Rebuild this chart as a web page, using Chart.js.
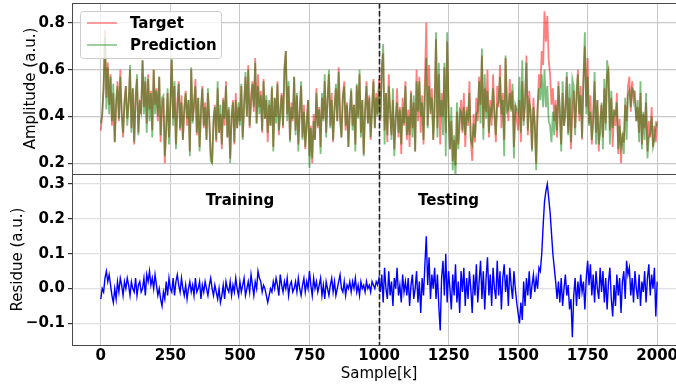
<!DOCTYPE html>
<html>
<head>
<meta charset="utf-8">
<script src="https://cdn.jsdelivr.net/npm/chart.js@4.4.0/dist/chart.umd.min.js"></script>
<style>
  html, body { margin: 0; padding: 0; background: #fff; overflow: hidden; }
  #wrap { position: relative; width: 676px; height: 385px; overflow: hidden; }
  #topChart { position: absolute; left: 0; top: 0; }
  #bottomChart { position: absolute; left: 0; top: 174px; }
</style>
</head>
<body>
<div id="wrap">
  <canvas id="topChart" width="700" height="175"></canvas>
  <canvas id="bottomChart" width="700" height="211"></canvas>
</div>
<script>
// one value every 5 samples
const sampleStep = 5;

const target = [
  0.34, 0.41, 0.52, 0.77, 0.48, 0.63, 0.45, 0.58, 0.36, 0.5, 0.29, 0.44, 0.55, 0.38, 0.6, 0.42, 0.31, 0.47, 0.53, 0.39,
  0.46, 0.6, 0.35, 0.52, 0.28, 0.49, 0.56, 0.33, 0.47, 0.41, 0.64, 0.44, 0.55, 0.37, 0.58, 0.43, 0.51, 0.34, 0.6, 0.45,
  0.52, 0.38, 0.57, 0.29, 0.43, 0.48, 0.2, 0.36, 0.5, 0.31, 0.45, 0.64, 0.39, 0.53, 0.28, 0.46, 0.55, 0.34, 0.49, 0.3,
  0.42, 0.51, 0.36, 0.47, 0.25, 0.6, 0.38, 0.44, 0.56, 0.32, 0.48, 0.27, 0.41, 0.53, 0.35, 0.46, 0.3, 0.5, 0.39, 0.24,
  0.2, 0.37, 0.45, 0.29, 0.52, 0.33, 0.41, 0.26, 0.48, 0.36, 0.55, 0.31, 0.43, 0.22, 0.39, 0.47, 0.28, 0.5, 0.35, 0.44,
  0.38, 0.53, 0.31, 0.46, 0.57, 0.4, 0.62, 0.35, 0.49, 0.55, 0.42, 0.65, 0.37, 0.58, 0.44, 0.51, 0.33, 0.56, 0.39, 0.47,
  0.29, 0.45, 0.36, 0.52, 0.27, 0.48, 0.4, 0.55, 0.32, 0.44, 0.5, 0.35, 0.61, 0.68, 0.41, 0.53, 0.3, 0.46, 0.38, 0.57,
  0.34, 0.49, 0.28, 0.42, 0.53, 0.31, 0.45, 0.26, 0.38, 0.47, 0.23, 0.36, 0.2, 0.41, 0.3, 0.52, 0.35, 0.44, 0.27, 0.48,
  0.39, 0.55, 0.33, 0.47, 0.58, 0.36, 0.5, 0.29, 0.44, 0.52, 0.38, 0.61, 0.42, 0.31, 0.48, 0.55, 0.34, 0.46, 0.27, 0.43,
  0.51, 0.36, 0.45, 0.28, 0.53, 0.4, 0.58, 0.33, 0.47, 0.24, 0.42, 0.55, 0.37, 0.49, 0.3, 0.44, 0.56, 0.35, 0.5, 0.41,
  0.56, 0.38, 0.62, 0.67, 0.34, 0.5, 0.29, 0.58, 0.41, 0.32, 0.47, 0.26, 0.39, 0.52, 0.31, 0.44, 0.24, 0.48, 0.36, 0.55,
  0.3, 0.43, 0.27, 0.51, 0.35, 0.46, 0.25, 0.6, 0.38, 0.57, 0.33, 0.49, 0.28, 0.55, 0.8, 0.36, 0.62, 0.41, 0.52, 0.3,
  0.48, 0.73, 0.35, 0.58, 0.28, 0.5, 0.4, 0.61, 0.33, 0.72, 0.45, 0.26, 0.38, 0.21, 0.3, 0.19, 0.42, 0.28, 0.36, 0.47,
  0.33, 0.5, 0.27, 0.44, 0.36, 0.55, 0.3, 0.21, 0.41, 0.29, 0.48, 0.38, 0.57, 0.45, 0.66, 0.35, 0.52, 0.42, 0.6, 0.31,
  0.47, 0.36, 0.58, 0.41, 0.29, 0.53, 0.44, 0.62, 0.35, 0.5, 0.3, 0.65, 0.46, 0.38, 0.56, 0.43, 0.51, 0.27, 0.45, 0.39,
  0.34, 0.47, 0.29, 0.55, 0.38, 0.44, 0.66, 0.32, 0.51, 0.4, 0.26, 0.48, 0.36, 0.2, 0.43, 0.58, 0.52, 0.68, 0.62, 0.85,
  0.72, 0.83, 0.64, 0.58, 0.45, 0.52, 0.38, 0.47, 0.31, 0.55, 0.4, 0.28, 0.5, 0.36, 0.44, 0.57, 0.33, 0.48, 0.26, 0.42,
  0.51, 0.35, 0.46, 0.6, 0.38, 0.53, 0.3, 0.57, 0.7, 0.44, 0.65, 0.37, 0.49, 0.28, 0.41, 0.55, 0.33, 0.47, 0.25, 0.39,
  0.45, 0.31, 0.52, 0.37, 0.58, 0.6, 0.34, 0.48, 0.27, 0.43, 0.36, 0.5, 0.24, 0.39, 0.2, 0.33, 0.29, 0.45, 0.38, 0.53,
  0.57, 0.42, 0.55, 0.47, 0.51, 0.38, 0.44, 0.33, 0.5, 0.28, 0.41, 0.35, 0.46, 0.25, 0.38, 0.31, 0.44, 0.27, 0.36, 0.29,
  0.38
];

// residue = target - prediction
const residue = [
  -0.03, 0.0, -0.01, 0.03, 0.05, 0.02, 0.04, 0.01, -0.02, -0.04, 0.0, -0.03, 0.02, -0.01, 0.03, 0.01, -0.02, 0.02, 0.0, 0.03,
  0.01, -0.02, 0.02, 0.0, -0.01, 0.03, -0.02, 0.01, 0.02, -0.01, 0.0, 0.03, -0.02, 0.04, 0.02, 0.05, 0.01, 0.03, 0.0, 0.04,
  0.01, -0.02, 0.0, -0.03, -0.05, -0.01, -0.03, 0.02, -0.02, 0.03, 0.0, -0.01, 0.03, -0.02, 0.02, 0.04, 0.01, -0.01, 0.03, 0.0,
  -0.02, 0.01, -0.03, 0.0, 0.02, -0.01, 0.01, -0.02, 0.03, -0.01, 0.0, 0.02, -0.03, 0.01, -0.01, 0.02, 0.0, -0.02, 0.01, 0.03,
  0.0, -0.02, 0.01, -0.01, -0.03, 0.0, -0.04, -0.02, 0.01, -0.03, 0.02, 0.0, -0.01, 0.02, -0.02, 0.01, -0.01, 0.03, 0.0, -0.02,
  0.02, -0.01, 0.01, 0.03, -0.02, 0.0, 0.02, -0.01, 0.04, 0.01, -0.02, 0.02, 0.0, 0.05, 0.03, 0.02, -0.01, 0.01, 0.0, -0.02,
  -0.04, -0.02, 0.0, -0.01, 0.02, 0.0, 0.03, 0.01, -0.02, 0.04, 0.01, -0.01, 0.02, 0.0, 0.03, -0.02, 0.01, 0.02, -0.01, 0.0,
  0.02, -0.01, 0.03, 0.0, -0.02, 0.01, 0.03, -0.01, 0.02, 0.0, 0.05, 0.01, -0.02, 0.03, 0.0, 0.02, -0.01, 0.01, 0.03, -0.02,
  0.01, -0.03, 0.02, 0.0, -0.02, 0.01, 0.03, -0.01, 0.02, -0.02, 0.0, 0.02, 0.04, 0.0, -0.01, 0.02, -0.02, 0.01, 0.0, 0.02,
  -0.01, 0.02, 0.0, 0.03, -0.01, 0.01, -0.02, 0.02, 0.0, 0.01, -0.01, 0.02, 0.0, 0.01, -0.01, 0.02, 0.01, 0.0, 0.02, 0.01,
  0.03, -0.01, 0.04, -0.04, 0.06, 0.0, -0.03, 0.05, -0.02, 0.02, -0.05, 0.03, 0.0, 0.06, -0.02, 0.01, -0.04, 0.04, -0.01, 0.02,
  -0.02, 0.03, -0.05, 0.01, 0.04, -0.03, 0.0, 0.05, -0.04, 0.02, -0.07, 0.03, -0.02, 0.07, 0.15, 0.01, 0.09, -0.03, 0.04, 0.0,
  0.06, -0.03, 0.04, -0.05, -0.12, 0.03, 0.08, -0.02, 0.1, -0.04, 0.05, 0.0, -0.06, 0.04, -0.02, 0.07, -0.04, 0.02, -0.07, 0.05,
  -0.01, 0.06, -0.05, 0.03, -0.03, 0.05, 0.0, -0.07, 0.04, -0.02, 0.07, -0.04, 0.02, 0.08, -0.03, 0.05, -0.06, 0.03, 0.09, -0.02,
  0.04, -0.05, 0.06, 0.0, -0.03, 0.08, -0.02, 0.05, -0.06, 0.03, 0.07, -0.01, 0.04, -0.05, 0.06, 0.01, -0.03, 0.05, 0.0, -0.04,
  -0.07, -0.1, -0.04, -0.09, 0.02, -0.05, 0.03, -0.02, 0.05, -0.03, 0.01, 0.04, -0.01, 0.03, 0.0, 0.06, 0.05, 0.1, 0.18, 0.25,
  0.28, 0.3, 0.26, 0.22, 0.16, 0.1, 0.06, 0.02, -0.03, 0.02, -0.04, 0.03, -0.05, 0.0, 0.04, -0.02, 0.01, -0.06, -0.03, -0.14,
  -0.02, 0.03, -0.05, 0.02, -0.03, 0.04, -0.01, 0.02, -0.06, 0.03, 0.08, 0.01, 0.07, -0.02, 0.04, -0.04, 0.05, 0.0, -0.03, 0.06,
  -0.01, 0.05, -0.04, 0.03, -0.06, 0.02, 0.06, -0.03, -0.08, 0.01, -0.05, 0.04, -0.02, 0.03, -0.07, 0.02, 0.05, -0.03, 0.08, 0.04,
  0.06, -0.02, 0.03, -0.04, 0.05, 0.0, -0.03, 0.04, -0.05, 0.02, -0.01, 0.05, -0.04, 0.03, 0.07, -0.02, 0.04, 0.0, 0.06, -0.08,
  0.02
];

const prediction = target.map((v, i) => +(v - residue[i]).toFixed(3));

const xTicks = [0, 250, 500, 750, 1000, 1250, 1500, 1750, 2000];
const ampTicks = [0.2, 0.4, 0.6, 0.8];
const resTicks = [-0.1, 0.0, 0.1, 0.2, 0.3];
const phaseNames = ["Training", "Testing"];
const phaseCenters = [500, 1250];
const splitAt = 1000;

const FONT = "'DejaVu Sans', sans-serif";
const GRID = "#c8c8c8";
const GRID_LIGHT = "#e0e0e0";
const SPINE = "#4a4a4a";

function toPoints(arr) {
  return arr.map((v, i) => ({ x: i * sampleStep, y: v }));
}
function fmt(v) {
  return v.toFixed(1).replace("-", "\u2212");
}

// frame + dashed split line, shared by both panels
const framePlugin = {
  id: "frame",
  afterDatasetsDraw(chart) {
    const { ctx, chartArea: a, scales } = chart;
    const xs = Math.round(scales.x.getPixelForValue(splitAt)) + 0.5;
    ctx.save();
    ctx.strokeStyle = "#222";
    ctx.lineWidth = 1.6;
    ctx.setLineDash([5.5, 2.5]);
    ctx.beginPath();
    ctx.moveTo(xs, a.top);
    ctx.lineTo(xs, a.bottom);
    ctx.stroke();
    ctx.setLineDash([]);
    ctx.strokeStyle = SPINE;
    ctx.lineWidth = 1;
    ctx.strokeRect(Math.round(a.left) - 0.5, Math.round(a.top) + 0.5,
      Math.round(a.right - a.left) + 1, Math.round(a.bottom - a.top));
    ctx.restore();
  }
};

const legendPlugin = {
  id: "boxLegend",
  afterDraw(chart) {
    const ctx = chart.ctx;
    ctx.save();
    ctx.fillStyle = "rgba(255,255,255,0.8)";
    ctx.strokeStyle = "#cccccc";
    ctx.lineWidth = 1;
    ctx.beginPath();
    ctx.roundRect(80.5, 11.5, 141, 47, 3);
    ctx.fill();
    ctx.stroke();
    ctx.font = "bold 15px " + FONT;
    ctx.textBaseline = "middle";
    chart.data.datasets.forEach((ds, i) => {
      const y = 23 + i * 22;
      ctx.strokeStyle = ds.borderColor;
      ctx.lineWidth = 1.5;
      ctx.beginPath();
      ctx.moveTo(87, y);
      ctx.lineTo(117, y);
      ctx.stroke();
      ctx.fillStyle = "#000";
      ctx.fillText(ds.label, 130, y + 1);
    });
    ctx.restore();
  }
};

const phasePlugin = {
  id: "phaseText",
  afterDraw(chart) {
    const { ctx, scales } = chart;
    ctx.save();
    ctx.font = "bold 15px " + FONT;
    ctx.fillStyle = "#000";
    ctx.textAlign = "center";
    ctx.textBaseline = "middle";
    phaseNames.forEach((name, i) => {
      ctx.fillText(name, scales.x.getPixelForValue(phaseCenters[i]), scales.y.getPixelForValue(0.25));
    });
    ctx.restore();
  }
};

function xScale(showLabels) {
  return {
    type: "linear",
    min: -100,
    max: 2100,
    afterBuildTicks: s => { s.ticks = xTicks.map(v => ({ value: v })); },
    afterFit: s => {
      s.paddingLeft = 0; s.paddingRight = 0;
      s.height = showLabels ? 40 : 0;
    },
    grid: { color: GRID, lineWidth: 1, drawTicks: false },
    border: { display: false },
    ticks: {
      display: showLabels,
      color: "#000",
      padding: 4,
      maxRotation: 0,
      font: { family: FONT, size: 15, weight: "bold", lineHeight: 1 },
      callback: v => String(v)
    },
    title: {
      display: showLabels,
      text: "Sample[k]",
      color: "#000",
      padding: { top: 0, bottom: 2 },
      font: { family: FONT, size: 15 }
    }
  };
}

function yScale(min, max, ticks, title, titlePad, gridColor) {
  return {
    min: min,
    max: max,
    afterBuildTicks: s => { s.ticks = ticks.map(v => ({ value: v })); },
    afterFit: s => { s.width = 73; s.paddingTop = 0; s.paddingBottom = 0; },
    grid: { color: gridColor, lineWidth: 1.2, tickLength: 5, tickColor: "#333" },
    border: { display: false },
    ticks: {
      color: "#000",
      padding: 3,
      font: { family: FONT, size: 15, weight: "bold" },
      callback: v => fmt(v)
    },
    title: {
      display: true,
      text: title,
      color: "#000",
      padding: { top: titlePad, bottom: 0 },
      font: { family: FONT, size: 15 }
    }
  };
}

const common = {
  responsive: false,
  animation: false,
  devicePixelRatio: 1,
  plugins: { legend: { display: false }, tooltip: { enabled: false } },
  elements: { point: { radius: 0 }, line: { tension: 0 } }
};

new Chart(document.getElementById("topChart"), {
  type: "line",
  data: {
    datasets: [
      { label: "Target", data: toPoints(target), borderColor: "rgba(255,0,0,0.5)", borderWidth: 1.8, order: 1 },
      { label: "Prediction", data: toPoints(prediction), borderColor: "rgba(0,128,0,0.5)", borderWidth: 1.8, order: 0 }
    ]
  },
  options: Object.assign({}, common, {
    layout: { padding: { left: 0, right: 15, top: 3, bottom: 1 } },
    scales: {
      x: xScale(false),
      y: yScale(0.154, 0.885, ampTicks, "Amplitude (a.u.)", 22, GRID)
    }
  }),
  plugins: [framePlugin, legendPlugin]
});

new Chart(document.getElementById("bottomChart"), {
  type: "line",
  data: {
    datasets: [
      { label: "Residue", data: toPoints(residue), borderColor: "#0000ff", borderWidth: 1.4 }
    ]
  },
  options: Object.assign({}, common, {
    layout: { padding: { left: 0, right: 15, top: 0, bottom: 0 } },
    scales: {
      x: xScale(true),
      y: yScale(-0.162, 0.329, resTicks, "Residue (a.u.)", 9, GRID_LIGHT)
    }
  }),
  plugins: [framePlugin, phasePlugin]
});
</script>
</body>
</html>
